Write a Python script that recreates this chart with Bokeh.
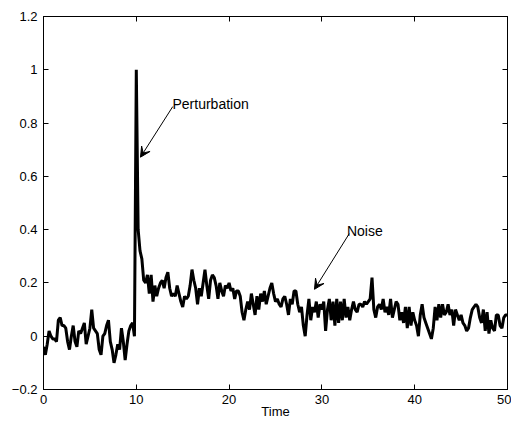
from bokeh.plotting import figure
from bokeh.models import (Range1d, FixedTicker, LinearAxis, Label, Arrow, VeeHead,
                          ColumnDataSource)
from bokeh.embed import file_html
from bokeh.resources import INLINE

# ---- data ----
seg_0_10 = [-0.04, -0.07, -0.03, 0.02, 0.00, -0.01, -0.01, -0.02, 0.06, 0.07,
            0.04, 0.04, 0.03, -0.02, -0.05, 0.00, 0.04, -0.02, -0.04, 0.02,
            0.01, 0.03, 0.05, -0.03, 0.00, 0.03, 0.10, 0.03, 0.02, 0.01,
            -0.05, -0.07, 0.00, 0.01, 0.04, 0.06, -0.02, -0.05, -0.10, -0.07,
            -0.03, -0.05, 0.03, -0.02, -0.09, -0.03, 0.02, 0.04, 0.05, 0.00]
seg_10_20 = [1.00, 0.40, 0.32, 0.29, 0.21, 0.20, 0.23, 0.16, 0.23, 0.13,
             0.19, 0.15, 0.18, 0.20, 0.21, 0.18, 0.22, 0.24, 0.18, 0.15,
             0.16, 0.15, 0.19, 0.16, 0.13, 0.11, 0.15, 0.14, 0.15, 0.19,
             0.25, 0.21, 0.18, 0.12, 0.18, 0.15, 0.20, 0.25, 0.19, 0.14,
             0.21, 0.23, 0.22, 0.19, 0.14, 0.20, 0.17, 0.15, 0.19, 0.18]
seg_20_30 = [0.20, 0.17, 0.18, 0.14, 0.17, 0.17, 0.15, 0.09, 0.06, 0.10,
             0.13, 0.10, 0.16, 0.12, 0.08, 0.15, 0.10, 0.16, 0.13, 0.17,
             0.12, 0.15, 0.18, 0.20, 0.16, 0.13, 0.14, 0.12, 0.11, 0.14,
             0.15, 0.12, 0.08, 0.14, 0.12, 0.17, 0.17, 0.12, 0.09, 0.11,
             0.04, 0.00, 0.08, 0.14, 0.06, 0.11, 0.09, 0.13, 0.07, 0.12]
seg_30_40 = [0.10, 0.13, 0.02, 0.10, 0.14, 0.06, 0.13, 0.04, 0.14, 0.05,
             0.13, 0.06, 0.14, 0.07, 0.11, 0.06, 0.10, 0.13, 0.10, 0.09,
             0.12, 0.12, 0.11, 0.13, 0.12, 0.13, 0.14, 0.22, 0.10, 0.07,
             0.11, 0.12, 0.10, 0.14, 0.09, 0.11, 0.08, 0.14, 0.07, 0.10,
             0.13, 0.12, 0.06, 0.09, 0.05, 0.11, 0.03, 0.11, 0.04, 0.09]
seg_40_50 = [0.06, 0.04, 0.00, 0.08, 0.12, 0.07, 0.05, 0.03, 0.01, -0.01,
             0.03, 0.11, 0.06, 0.12, 0.07, 0.12, 0.08, 0.09, 0.12, 0.08,
             0.10, 0.04, 0.10, 0.08, 0.06, 0.08, 0.05, 0.04, 0.02, 0.03,
             0.07, 0.10, 0.11, 0.12, 0.11, 0.07, 0.05, 0.10, 0.02, 0.09,
             0.01, 0.06, 0.03, 0.02, 0.08, 0.08, 0.04, 0.03, 0.07, 0.08, 0.08]

signal = seg_0_10 + seg_10_20 + seg_20_30 + seg_30_40 + seg_40_50
time_step = 0.2
time = [round(time_step * i, 1) for i in range(len(signal))]

x_ticks = [0, 10, 20, 30, 40, 50]
y_ticks = [-0.2, 0, 0.2, 0.4, 0.6, 0.8, 1, 1.2]
y_tick_labels = ["\u22120.2", "0", "0.2", "0.4", "0.6", "0.8", "1", "1.2"]
x_label = "Time"

ann_perturbation = dict(text="Perturbation", tx=13.9, ty=0.872,
                        ax0=13.93, ay0=0.862, ax1=10.45, ay1=0.672)
ann_noise = dict(text="Noise", tx=32.7, ty=0.395,
                 ax0=32.95, ay0=0.385, ax1=29.2, ay1=0.176)

FONT = "Liberation Sans"

p = figure(width=511, height=423, output_backend="svg", toolbar_location=None,
           x_range=Range1d(0, 50), y_range=Range1d(-0.2, 1.2),
           min_border_left=43, min_border_right=4, min_border_top=16,
           min_border_bottom=34, x_axis_label=x_label)
p.background_fill_color = "white"
p.border_fill_color = "white"
p.outline_line_color = "black"
p.outline_line_width = 1
p.xgrid.visible = False
p.ygrid.visible = False

src = ColumnDataSource(dict(t=time, v=signal))
p.line("t", "v", source=src, line_color="black", line_width=3)

ov = {v: s for v, s in zip(y_ticks, y_tick_labels)}

def style(ax):
    ax.axis_line_color = "black"
    ax.major_tick_line_color = "black"
    ax.major_tick_in = 5
    ax.major_tick_out = 0
    ax.minor_tick_line_color = None
    ax.major_label_text_font = FONT
    ax.major_label_text_font_size = "13px"
    ax.major_label_text_color = "black"

for ax in p.xaxis:
    style(ax)
    ax.ticker = FixedTicker(ticks=x_ticks)
    ax.major_label_standoff = 5
    ax.axis_label_text_font = FONT
    ax.axis_label_text_font_size = "13px"
    ax.axis_label_text_font_style = "normal"
    ax.axis_label_text_color = "black"
    ax.axis_label_standoff = -3
for ax in p.yaxis:
    style(ax)
    ax.ticker = FixedTicker(ticks=y_ticks)
    ax.major_label_overrides = ov
    ax.major_label_standoff = 6

# box ticks on top and right (no labels)
top = LinearAxis(ticker=FixedTicker(ticks=x_ticks))
style(top)
top.major_label_text_color = None
top.major_label_text_font_size = "1px"
top.major_label_standoff = 0
p.add_layout(top, "above")
right = LinearAxis(ticker=FixedTicker(ticks=y_ticks))
style(right)
right.major_label_text_color = None
right.major_label_text_font_size = "1px"
right.major_label_standoff = 0
p.add_layout(right, "right")

for a in (ann_perturbation, ann_noise):
    p.add_layout(Label(x=a["tx"], y=a["ty"], text=a["text"], text_font=FONT,
                       text_font_size="14px", text_color="black",
                       text_align="left", text_baseline="alphabetic"))
    p.add_layout(Arrow(x_start=a["ax0"], y_start=a["ay0"], x_end=a["ax1"], y_end=a["ay1"],
                       line_color="black", line_width=1,
                       end=VeeHead(size=10, fill_color="black", line_color="black", line_width=1)))

open("out.html", "w").write(file_html(p, INLINE))
